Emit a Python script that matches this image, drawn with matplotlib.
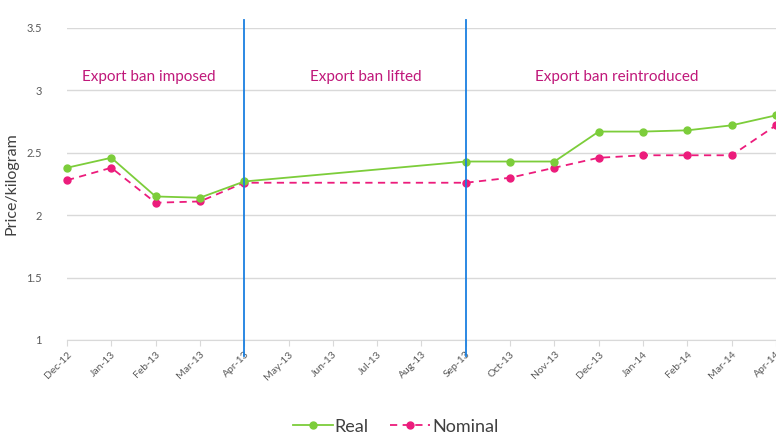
import numpy as np
import matplotlib
matplotlib.use('Agg')
import matplotlib.pyplot as plt

# months on the x axis
months = ['Dec-12', 'Jan-13', 'Feb-13', 'Mar-13', 'Apr-13', 'May-13', 'Jun-13',
          'Jul-13', 'Aug-13', 'Sep-13', 'Oct-13', 'Nov-13', 'Dec-13', 'Jan-14',
          'Feb-14', 'Mar-14', 'Apr-14']

# price per kilogram (no data May-13 to Aug-13)
real = [2.38, 2.46, 2.15, 2.14, 2.27, None, None, None, None,
        2.43, 2.43, 2.43, 2.67, 2.67, 2.68, 2.72, 2.80]
nominal = [2.28, 2.38, 2.10, 2.11, 2.26, None, None, None, None,
           2.26, 2.30, 2.38, 2.46, 2.48, 2.48, 2.48, 2.72]

ban_changes = ['Apr-13', 'Sep-13']
periods = ['Export ban imposed', 'Export ban lifted', 'Export ban reintroduced']
period_mid = [1.85, 6.75, 12.4]

plt.rcParams['font.family'] = ['Lato', 'DejaVu Sans']

fig = plt.figure(figsize=(7.76, 4.4), dpi=100)
ax = fig.add_axes([0.0863, 0.2273, 0.9137, 0.7091])

x = np.arange(len(months))
r = np.array([np.nan if v is None else v for v in real])
n = np.array([np.nan if v is None else v for v in nominal])
mr = ~np.isnan(r)
mn = ~np.isnan(n)

ax.plot(x[mr], r[mr], color='#7ccd3a', lw=1.3, marker='o', ms=5, label='Real', zorder=4, clip_on=False)
ax.plot(x[mn], n[mn], color='#ec1c7c', lw=1.3, ls=(0, (4, 3)), marker='o', ms=5, label='Nominal', zorder=3, clip_on=False)

for m in ban_changes:
    ax.axvline(months.index(m), ymin=-0.05, ymax=1.025, color='#1a7fe0', lw=1.3, clip_on=False, zorder=5)

for t, xm in zip(periods, period_mid):
    ax.text(xm, 3.11, t, ha='center', va='center', color='#c0187a', fontsize=11)

ax.set_xlim(0, len(months) - 1)
ax.set_ylim(1, 3.5)
ax.set_yticks([1, 1.5, 2, 2.5, 3, 3.5])
ax.set_yticklabels(['1', '1.5', '2', '2.5', '3', '3.5'], fontsize=8, color='#595959')
ax.set_xticks(x)
ax.set_xticklabels(months, rotation=45, ha='right', rotation_mode='anchor', fontsize=7.5, color='#595959')
ax.tick_params(axis='x', length=4, color='#d9d9d9', pad=3)
ax.tick_params(axis='y', length=0, pad=18)
ax.grid(axis='y', color='#d9d9d9', lw=1)
ax.set_axisbelow(True)
for s in ['top', 'right', 'left']:
    ax.spines[s].set_visible(False)
ax.spines['bottom'].set_color('#d9d9d9')
ax.set_ylabel('Price/kilogram', fontsize=11.5, color='#404040', labelpad=6)

fig.legend(loc='lower center', bbox_to_anchor=(0.51, -0.025), ncol=2, frameon=False,
           fontsize=13, handlelength=2.2, handletextpad=0.1, columnspacing=1.2, labelcolor='#404040')

fig.savefig('out.png', dpi=100)
